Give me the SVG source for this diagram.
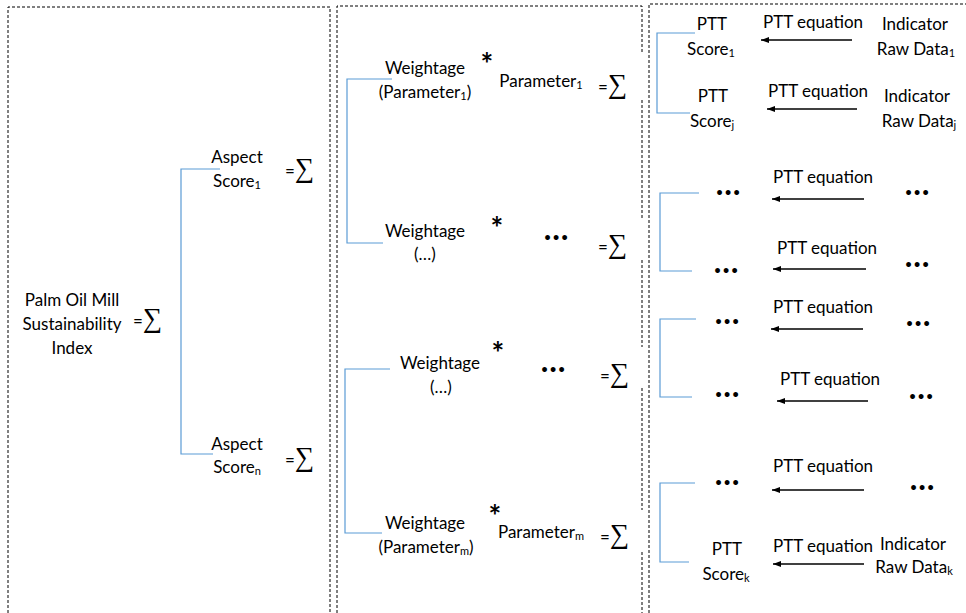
<svg xmlns="http://www.w3.org/2000/svg" width="966" height="613" viewBox="0 0 966 613">
<style>
text{font-family:Lato,"Open Sans","Liberation Sans",sans-serif;font-size:17px;fill:#000}
.c{text-anchor:middle}
.sub{font-size:11px}
.sig{font-family:"Liberation Serif","DejaVu Serif",serif;font-size:27px}
.dots{font-weight:bold;font-size:32px;text-anchor:middle}
.ast{font-size:30px;font-weight:bold;text-anchor:middle}
.frame{fill:none;stroke:#000;stroke-width:1;stroke-dasharray:3 2}
.br{fill:none;stroke:#5B9BD5;stroke-width:1.2}
.ar{stroke:#000;stroke-width:1.5;marker-end:url(#ah)}
</style>
<defs>
<marker id="ah" markerWidth="8" markerHeight="6" refX="8" refY="3" orient="auto" markerUnits="userSpaceOnUse"><path d="M0,0 L8,3 L0,6 z" fill="#000"/></marker>
</defs>
<g id="frames">
<path class="frame" d="M8,613 V7 H330 V613"/>
<path class="frame" d="M337,613 V6 H642 V52 M642,100 V218 M642,260 V347 M642,388 V510 M642,552 V613"/>
<path class="frame" d="M649,613 V4 H966"/>
</g>
<g id="connectors">
<path class="br" d="M220,169 H181 V454 H213"/>
<path class="br" d="M392,79 H347 V243 H383"/>
<path class="br" d="M390,369 H345 V533 H382"/>
<path class="br" d="M695,33 H657 V113 H690"/>
<path class="br" d="M699,193 H660 V271 H692"/>
<path class="br" d="M696,319 H660 V397 H692"/>
<path class="br" d="M695,483 H660 V562 H689"/>
<line class="ar" x1="852" y1="40" x2="761" y2="40"/>
<line class="ar" x1="857" y1="109" x2="767" y2="109"/>
<line class="ar" x1="864" y1="199" x2="772" y2="199"/>
<line class="ar" x1="866" y1="269" x2="773" y2="269"/>
<line class="ar" x1="863" y1="329" x2="771" y2="329"/>
<line class="ar" x1="868" y1="401" x2="777" y2="401"/>
<line class="ar" x1="864" y1="490" x2="772" y2="490"/>
<line class="ar" x1="864" y1="564" x2="773" y2="564"/>
</g>
<g id="root">
<text class="c" x="72" y="306">Palm Oil Mill</text>
<text class="c" x="72" y="330">Sustainability</text>
<text class="c" x="72" y="354">Index</text>
<text x="133" y="327">=<tspan class="sig">∑</tspan></text>
</g>
<g id="aspect1">
<text class="c" x="237" y="163">Aspect</text>
<text class="c" x="237" y="187">Score<tspan class="sub" dy="2">1</tspan></text>
<text x="285" y="177">=<tspan class="sig">∑</tspan></text>
</g>
<g id="aspectn">
<text class="c" x="237" y="450">Aspect</text>
<text class="c" x="237" y="473">Score<tspan class="sub" dy="2">n</tspan></text>
<text x="285" y="466">=<tspan class="sig">∑</tspan></text>
</g>
<g id="weight1">
<text class="c" x="425" y="74">Weightage</text>
<text class="c" x="425" y="98">(Parameter<tspan class="sub" dy="2">1</tspan><tspan dy="-2">)</tspan></text>
<text class="ast" x="487" y="75">*</text>
<text class="c" x="541" y="87">Parameter<tspan class="sub" dy="2">1</tspan></text>
<text x="598" y="93">=<tspan class="sig">∑</tspan></text>
</g>
<g id="weight2">
<text class="c" x="425" y="237">Weightage</text>
<text class="c" x="425" y="260">(…)</text>
<text class="ast" x="497" y="239">*</text>
<text class="dots" x="556" y="240">…</text>
<text x="598" y="253">=<tspan class="sig">∑</tspan></text>
</g>
<g id="weight3">
<text class="c" x="440" y="369">Weightage</text>
<text class="c" x="441" y="393">(…)</text>
<text class="ast" x="498" y="364">*</text>
<text class="dots" x="553" y="372">…</text>
<text x="600" y="382">=<tspan class="sig">∑</tspan></text>
</g>
<g id="weight4">
<text class="c" x="425" y="529">Weightage</text>
<text class="c" x="426" y="553">(Parameter<tspan class="sub" dy="2">m</tspan><tspan dy="-2">)</tspan></text>
<text class="ast" x="495" y="527">*</text>
<text class="c" x="541" y="538">Parameter<tspan class="sub" dy="2">m</tspan></text>
<text x="600" y="543">=<tspan class="sig">∑</tspan></text>
</g>
<g id="ptt1">
<text class="c" x="712" y="30">PTT</text>
<text class="c" x="711" y="55">Score<tspan class="sub" dy="2">1</tspan></text>
</g>
<g id="pttj">
<text class="c" x="713" y="102">PTT</text>
<text class="c" x="712" y="127">Score<tspan class="sub" dy="2">j</tspan></text>
</g>
<g id="ptt-dots">
<text class="dots" x="728" y="195">…</text>
<text class="dots" x="726" y="273">…</text>
<text class="dots" x="727" y="324">…</text>
<text class="dots" x="727" y="397">…</text>
<text class="dots" x="727" y="485">…</text>
</g>
<g id="pttk">
<text class="c" x="727" y="555">PTT</text>
<text class="c" x="726" y="580">Score<tspan class="sub" dy="2">k</tspan></text>
</g>
<g id="equations">
<text class="c" x="813" y="28">PTT equation</text>
<text class="c" x="818" y="97">PTT equation</text>
<text class="c" x="823" y="183">PTT equation</text>
<text class="c" x="827" y="254">PTT equation</text>
<text class="c" x="823" y="313">PTT equation</text>
<text class="c" x="830" y="385">PTT equation</text>
<text class="c" x="823" y="472">PTT equation</text>
<text class="c" x="823" y="552">PTT equation</text>
</g>
<g id="raw1">
<text class="c" x="915" y="30">Indicator</text>
<text class="c" x="916" y="55">Raw Data<tspan class="sub" dy="2">1</tspan></text>
</g>
<g id="rawj">
<text class="c" x="917" y="102">Indicator</text>
<text class="c" x="919" y="127">Raw Data<tspan class="sub" dy="2">j</tspan></text>
</g>
<g id="raw-dots">
<text class="dots" x="917" y="195">…</text>
<text class="dots" x="917" y="267">…</text>
<text class="dots" x="918" y="326">…</text>
<text class="dots" x="921" y="399">…</text>
<text class="dots" x="922" y="490">…</text>
</g>
<g id="rawk">
<text class="c" x="913" y="550">Indicator</text>
<text class="c" x="914" y="573">Raw Data<tspan class="sub" dy="2">k</tspan></text>
</g>
</svg>
